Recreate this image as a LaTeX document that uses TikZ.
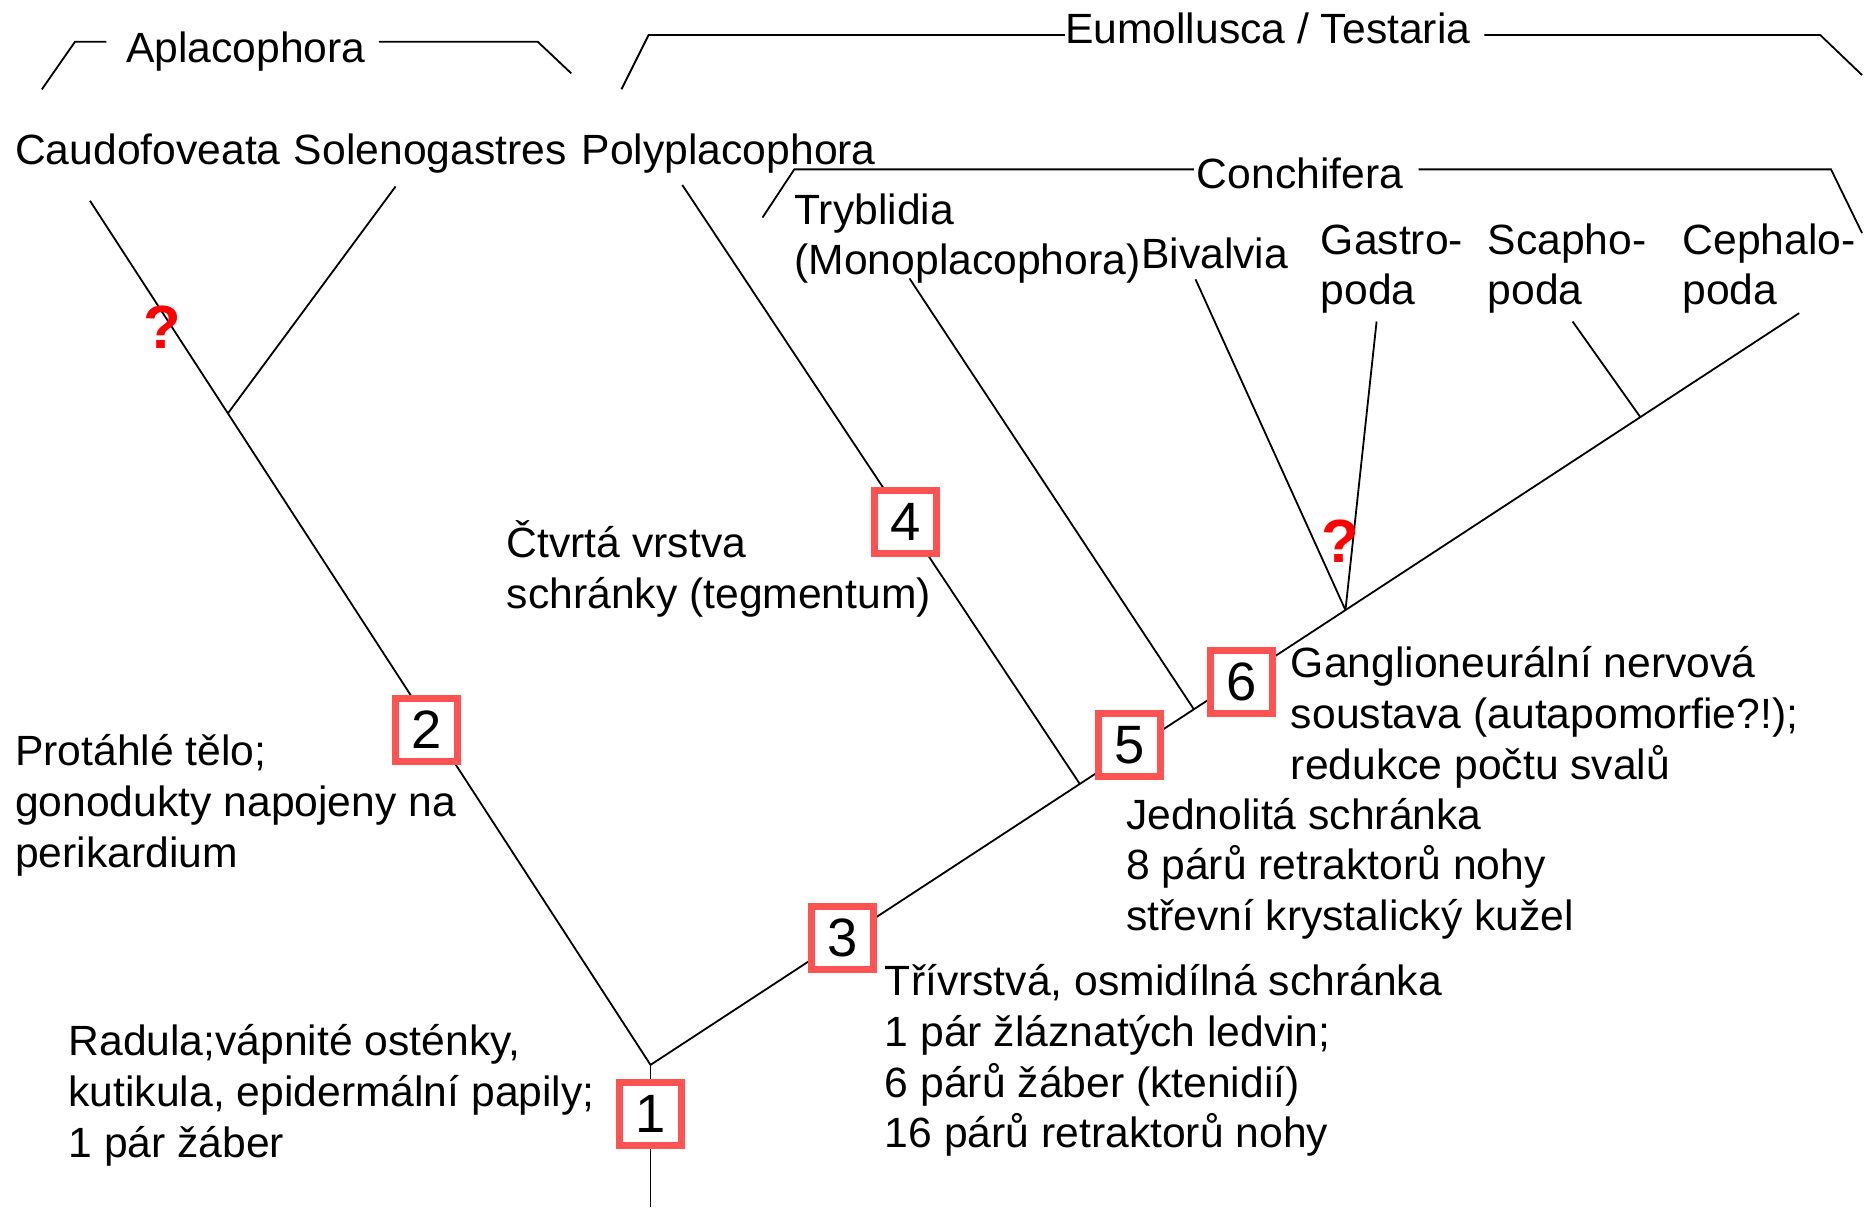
\documentclass[tikz,border=0pt]{standalone}
\usepackage{fontspec}
\setmainfont[FakeStretch=1.008]{Liberation Sans}
\usetikzlibrary{calc}
\definecolor{boxred}{RGB}{255,82,82}
\newcommand{\mlines}[1]{\begin{tabular}[t]{@{}l@{}}#1\end{tabular}}
\begin{document}
\begin{tikzpicture}[x=1.1951pt,y=-1.1951pt,
  lbl/.style={anchor=base west, inner sep=0pt, font=\fontsize{42.3pt}{50.8pt}\selectfont},
  numbox/.style={draw=boxred, line width=7pt, fill=white, minimum width=62pt, minimum height=63pt, inner sep=0pt, font=\fontsize{54pt}{60pt}\selectfont},
  qmark/.style={text=red, anchor=base, inner sep=0pt, font=\bfseries\fontsize{61pt}{70pt}\selectfont},
  branch/.style={line width=1.8pt},
  bracket/.style={line width=1.8pt}]
\fill[white] (0,0) rectangle (1568,1010);
\useasboundingbox (0,0) rectangle (1568,1010);

% ---------- tree coordinates ----------
\coordinate (rootbot) at (544.3,1009.6);
\coordinate (root) at (544.3,891);
\coordinate (caudo) at (75.3,168);
\coordinate (soleno) at (331,156);
\coordinate (jsol) at ($(root)!0.754!(caudo)$);
\coordinate (ceph) at (1505.4,262);
\coordinate (poly) at (570.9,154.8);
\coordinate (jpoly) at ($(root)!0.3737!(ceph)$);
\coordinate (tryb) at (761,233);
\coordinate (jtryb) at ($(root)!0.473!(ceph)$);
\coordinate (biv) at (1000.3,233.7);
\coordinate (gast) at (1151.8,269);
\coordinate (jgast) at ($(root)!0.605!(ceph)$);
\coordinate (scap) at (1315.8,269);
\coordinate (jscap) at ($(root)!0.8617!(ceph)$);

% ---------- branches ----------
\draw[branch] (rootbot) -- (root);
\draw[branch] (root) -- (caudo);
\draw[branch] (jsol) -- (soleno);
\draw[branch] (root) -- (ceph);
\draw[branch] (jpoly) -- (poly);
\draw[branch] (jtryb) -- (tryb);
\draw[branch] (jgast) -- (biv);
\draw[branch] (jgast) -- (gast);
\draw[branch] (jscap) -- (scap);

% ---------- brackets ----------
\coordinate (apA) at (35,74.8);
\coordinate (apB) at (62.7,35);
\coordinate (apC) at (89,35);
\coordinate (apD) at (317,35);
\coordinate (apE) at (450,35);
\coordinate (apF) at (478,61.4);
\draw[bracket] (apA) -- (apB) -- (apC);
\draw[bracket] (apD) -- (apE) -- (apF);

\coordinate (euA) at (520,74.7);
\coordinate (euB) at (542.7,29.3);
\coordinate (euC) at (891,29.3);
\coordinate (euD) at (1242,29.3);
\coordinate (euE) at (1523,29.3);
\coordinate (euF) at (1558,62.8);
\draw[bracket] (euA) -- (euB) -- (euC);
\draw[bracket] (euD) -- (euE) -- (euF);

\coordinate (coA) at (638,182);
\coordinate (coB) at (664.6,141.7);
\coordinate (coC) at (999,141.7);
\coordinate (coD) at (1187,141.7);
\coordinate (coE) at (1532,141.7);
\coordinate (coF) at (1558,195);
\draw[bracket] (coA) -- (coB) -- (coC);
\draw[bracket] (coD) -- (coE) -- (coF);

% ---------- group names ----------
\node[lbl] (taplaco) at (105.3,52) {Aplacophora};
\node[lbl] (teumol) at (891,36.5) {Eumollusca / Testaria};
\node[lbl] (tconch) at (1001.3,158) {Conchifera};

% ---------- taxa ----------
\node[lbl] (tcaudo) at (12.5,137.3) {Caudofoveata};
\node[lbl] (tsoleno) at (245.8,137.3) {Solenogastres};
\node[lbl] (tpoly) at (486.6,137.3) {Polyplacophora};
\node[lbl] (ttryb) at (664.6,187.5) {\mlines{Tryblidia\\(Monoplacophora)}};
\node[lbl] (tbiv) at (954.7,225) {Bivalvia};
\node[lbl] (tgast) at (1105,212.6) {\mlines{Gastro-\\poda}};
\node[lbl] (tscap) at (1244.6,212.6) {\mlines{Scapho-\\poda}};
\node[lbl] (tceph) at (1407.6,212.6) {\mlines{Cephalo-\\poda}};

% ---------- character descriptions ----------
\node[lbl] (d4) at (423.9,466.4) {\mlines{Čtvrtá vrstva\\schránky (tegmentum)}};
\node[lbl] (d2) at (12.5,640.7) {\mlines{Protáhlé tělo;\\gonodukty napojeny na\\perikardium}};
\node[lbl] (d1) at (57.2,883.3) {\mlines{Radula;vápnité osténky,\\kutikula, epidermální papily;\\1 pár žáber}};
\node[lbl] (d3) at (740.3,833) {\mlines{Třívrstvá, osmidílná schránka\\1 pár žláznatých ledvin;\\6 párů žáber (ktenidií)\\16 párů retraktorů nohy}};
\node[lbl] (d5) at (942,693.7) {\mlines{Jednolitá schránka\\8 párů retraktorů nohy\\střevní krystalický kužel}};
\node[lbl] (d6) at (1080,566.8) {\mlines{Ganglioneurální nervová\\soustava (autapomorfie?!);\\redukce počtu svalů}};

% ---------- numbered boxes ----------
\node[numbox] (b1) at (544.2,931.7) {1};
\node[numbox] (b2) at (357,610.5) {2};
\node[numbox] (b3) at (705.3,784.5) {3};
\node[numbox] (b4) at (758,436.5) {4};
\node[numbox] (b5) at (945,623.5) {5};
\node[numbox] (b6) at (1039,570.5) {6};

% ---------- question marks ----------
\node[qmark] (q1) at (136,292) {?};
\node[qmark] (q2) at (1121,470.5) {?};
\end{tikzpicture}
\end{document}
